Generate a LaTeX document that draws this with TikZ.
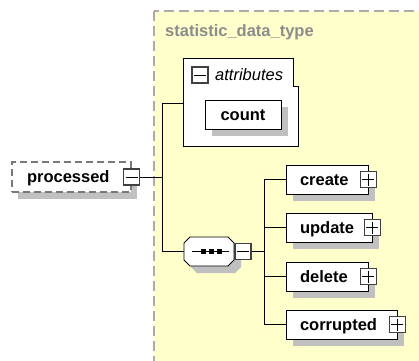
\documentclass[tikz,border=0pt]{standalone}
\usepackage{fontspec}
\setmainfont{Liberation Sans}
\usetikzlibrary{calc}
\definecolor{bgyellow}{RGB}{255,255,204}
\definecolor{dashgray}{RGB}{172,172,164}
\definecolor{titlegray}{RGB}{140,140,140}
\definecolor{shadowgray}{RGB}{192,192,192}
\definecolor{icongray}{RGB}{64,64,64}
\definecolor{procdash}{RGB}{120,120,120}
\tikzset{
  lbl/.style={font=\fontsize{16.5}{18}\selectfont\bfseries},
  elem/.style={lbl, draw=black, line width=0.9pt, fill=white, minimum height=29pt,
    inner xsep=14pt, inner ysep=0pt, align=left, text height=13pt, text depth=2pt},
  shadowbox/.style={fill=shadowgray, draw=none, inner sep=0pt, minimum height=29pt},
  icon/.style={draw=icongray, line width=1.6pt, fill=white, minimum size=16pt, inner sep=0pt},
  minuspic/.style={icon, path picture={\draw[black,line width=0.8pt]
    ([xshift=2pt]path picture bounding box.west) -- ([xshift=-2pt]path picture bounding box.east);}},
  pluspic/.style={icon, path picture={\draw[black,line width=0.8pt]
    ([xshift=2pt]path picture bounding box.west) -- ([xshift=-2pt]path picture bounding box.east)
    ([yshift=-2pt]path picture bounding box.north) -- ([yshift=2pt]path picture bounding box.south);}},
  conn/.style={draw=black, line width=0.9pt},
}
\begin{document}
\begin{tikzpicture}[x=1pt,y=-1pt]
\useasboundingbox (0,0) rectangle (419,360);
\clip (0,0) rectangle (419,360);
% complex type area
\draw[fill=bgyellow, draw=dashgray, line width=1.6pt, dash pattern=on 10pt off 5pt] (154,11) rectangle (440,380);
\node[lbl, anchor=base west, text=titlegray, inner sep=0pt] (title) at (165,36) {statistic\_data\_type};
% attributes group
\node[minimum width=114pt, minimum height=87pt, inner sep=0pt] (attr) at (241,102.5) {};
\draw[fill=white, draw=black, line width=0.9pt] (attr.north west) -- ($(attr.north east)+(-5,0)$)
  -- ($(attr.north east)+(-5,28)$) -- ($(attr.north east)+(0,28)$) -- (attr.south east)
  -- (attr.south west) -- cycle;
\node[minuspic] (aicon) at (200,75) {};
\node[anchor=base west, inner sep=0pt, font=\fontsize{16.5}{18}\selectfont\itshape] (alabel) at (215,80) {attributes};
\node[shadowbox, minimum width=76pt] (countsh) at (250,121.5) {};
\node[elem, minimum width=76pt, align=center, text width=48pt] (count) at (243,114.5) {count};
% processed element
\node[shadowbox, minimum width=119pt, minimum height=30pt] (procsh) at (77.5,184) {};
\node[elem, draw=procdash, line width=1.2pt, dash pattern=on 7pt off 4pt, minimum width=119pt,
  minimum height=30pt, text width=89pt, inner xsep=15pt] (proc) at (71.5,177) {processed};
\node[minuspic] (procicon) at (proc.east) {};
% sequence compositor
\node[minimum width=50pt, minimum height=29pt, inner sep=0pt] (seq) at (209,251.5) {};
\fill[shadowgray, xshift=7pt, yshift=-7pt] (190,237) -- (228,237) -- (234,243) -- (234,260)
  -- (228,266) -- (190,266) -- (184,260) -- (184,243) -- cycle;
% children shadows
\node[shadowbox, minimum width=82pt] (createsh) at (334,186.5) {};
\node[shadowbox, minimum width=86pt] (updatesh) at (336,234.5) {};
\node[shadowbox, minimum width=82pt] (deletesh) at (334,283.5) {};
\node[shadowbox, minimum width=111pt] (corruptedsh) at (348.5,331.5) {};
% connectors
\coordinate (jl) at (162,177);
\coordinate (ja) at (162,103);
\coordinate (js) at (162,251.5);
\coordinate (jr) at (264,251.5);
\draw[conn] (procicon.east) -- (jl);
\draw[conn] (attr.west |- ja) -- (ja) -- (js) -- (seq.west);
% sequence shape
\draw[fill=white, draw=black, line width=0.9pt] (190,237) -- (228,237) -- (234,243) -- (234,260)
  -- (228,266) -- (190,266) -- (184,260) -- (184,243) -- cycle;
\draw[black, line width=0.9pt] (192,251.5) -- (229,251.5);
\fill[black] (201,249) rectangle (206,254);
\fill[black] (209,249) rectangle (214,254);
\fill[black] (217,249) rectangle (222,254);
\node[minuspic, anchor=west] (seqicon) at (seq.east) {};
% children
\node[elem, minimum width=82pt, text width=54pt] (create) at (327,179.5) {create};
\node[elem, minimum width=86pt, text width=58pt] (update) at (329,227.5) {update};
\node[elem, minimum width=82pt, text width=54pt] (delete) at (327,276.5) {delete};
\node[elem, minimum width=111pt, text width=83pt] (corrupted) at (341.5,324.5) {corrupted};
\draw[conn] (seqicon.east) -- (jr);
\draw[conn] (jr |- create.west) -- (jr |- corrupted.west);
\foreach \n in {create,update,delete,corrupted} {
  \draw[conn] (jr |- \n.west) -- (\n.west);
  \node[pluspic] (\n icon) at (\n.east) {};
}
\end{tikzpicture}
\end{document}
